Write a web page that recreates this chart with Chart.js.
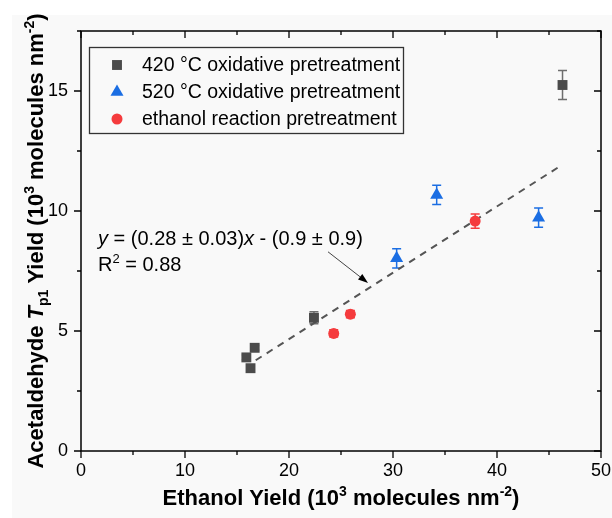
<!DOCTYPE html>
<html lang="en">
<head>
<meta charset="UTF-8">
<title>Acetaldehyde Tp1 yield vs ethanol yield</title>
<script src="https://cdn.jsdelivr.net/npm/chart.js"></script>
<style>
  html, body { margin: 0; padding: 0; background: #fff; }
  #chart { display: block; }
</style>
</head>
<body>
<canvas id="chart" width="612" height="518"></canvas>
<script>
// axis ticks
const xTickValues = [0, 10, 20, 30, 40, 50];
const yTickValues = [0, 5, 10, 15];
const xMinorValues = [5, 15, 25, 35, 45];
const yMinorValues = [2.5, 7.5, 12.5, 17.5];

// 420 °C oxidative pretreatment
const x420 = [15.9, 16.3, 16.7, 22.4, 46.3];
const y420 = [3.9, 3.45, 4.3, 5.55, 15.25];
const err420 = [0.1, 0.1, 0.1, 0.25, 0.6];

// 520 °C oxidative pretreatment
const x520 = [30.35, 34.2, 44.0];
const y520 = [8.03, 10.67, 9.72];
const err520 = [0.4, 0.4, 0.4];

// ethanol reaction pretreatment
const xEth = [24.3, 25.9, 37.9];
const yEth = [4.9, 5.7, 9.58];
const errEth = [0.15, 0.15, 0.3];

// linear fit, end points
const fitX = [16.8, 46.0];
const fitY = [3.78, 11.85];

// arrow from the equation to the fit line (data units)
const arrowFrom = [23.75, 8.3];
const arrowTo = [27.6, 7.0];

const seriesNames = ['420 °C oxidative pretreatment', '520 °C oxidative pretreatment', 'ethanol reaction pretreatment'];

const FONT = '"Liberation Sans", Arial, sans-serif';
const GREY = '#4b4b4b';
const BLUE = '#1b6ee3';
const RED = '#f53b3d';

function pts(xs, ys) {
  return xs.map((x, i) => ({ x: x, y: ys[i] }));
}

// draw a run of text pieces with their own fonts / offsets
function drawRich(ctx, segs, x, y, align) {
  let total = 0;
  segs.forEach(s => { ctx.font = s.font; total += ctx.measureText(s.text).width; });
  let cx = align === 'center' ? x - total / 2 : x;
  segs.forEach(s => {
    ctx.font = s.font;
    ctx.fillText(s.text, cx, y + (s.dy || 0));
    cx += ctx.measureText(s.text).width;
  });
}

const decorations = {
  id: 'decorations',
  beforeDraw(chart) {
    const ctx = chart.ctx;
    ctx.save();
    ctx.fillStyle = '#ffffff';
    ctx.fillRect(0, 0, chart.width, chart.height);
    ctx.fillStyle = '#f9f9f9';
    ctx.fillRect(12, 15, chart.width - 12, chart.height - 15);
    ctx.restore();
  },
  beforeDatasetsDraw(chart) {
    // error bars
    const ctx = chart.ctx;
    const xs = chart.scales.x, ys = chart.scales.y;
    const sets = [[x420, y420, err420, '#6e6e6e'], [x520, y520, err520, BLUE], [xEth, yEth, errEth, RED]];
    ctx.save();
    ctx.lineWidth = 1.5;
    sets.forEach(([xv, yv, ev, col]) => {
      ctx.strokeStyle = col;
      xv.forEach((x, i) => {
        const px = xs.getPixelForValue(x);
        const t = ys.getPixelForValue(yv[i] + ev[i]);
        const b = ys.getPixelForValue(yv[i] - ev[i]);
        ctx.beginPath();
        ctx.moveTo(px, t); ctx.lineTo(px, b);
        ctx.moveTo(px - 4.5, t); ctx.lineTo(px + 4.5, t);
        ctx.moveTo(px - 4.5, b); ctx.lineTo(px + 4.5, b);
        ctx.stroke();
      });
    });
    ctx.restore();
  },
  afterDraw(chart) {
    const ctx = chart.ctx;
    const a = chart.chartArea;
    const xs = chart.scales.x, ys = chart.scales.y;
    ctx.save();

    // frame
    ctx.strokeStyle = '#000';
    ctx.lineWidth = 1.5;
    ctx.strokeRect(a.left, a.top, a.right - a.left, a.bottom - a.top);

    // ticks: outward on left/bottom, inward on top/right
    ctx.lineWidth = 1.3;
    ctx.beginPath();
    const tickX = (v, len) => {
      const p = xs.getPixelForValue(v);
      ctx.moveTo(p, a.bottom); ctx.lineTo(p, a.bottom + len);
      ctx.moveTo(p, a.top); ctx.lineTo(p, a.top + len);
    };
    const tickY = (v, len) => {
      const p = ys.getPixelForValue(v);
      ctx.moveTo(a.left, p); ctx.lineTo(a.left - len, p);
      ctx.moveTo(a.right, p); ctx.lineTo(a.right - len, p);
    };
    xTickValues.forEach(v => tickX(v, 7));
    xMinorValues.forEach(v => tickX(v, 4));
    yTickValues.forEach(v => tickY(v, 7));
    yMinorValues.forEach(v => tickY(v, 4));
    ctx.stroke();

    // axis titles
    ctx.fillStyle = '#000';
    ctx.textBaseline = 'alphabetic';
    const B = 'bold 22px ' + FONT, BS = 'bold 14px ' + FONT;
    drawRich(ctx, [
      { text: 'Ethanol Yield (10', font: B },
      { text: '3', font: BS, dy: -9 },
      { text: ' molecules nm', font: B },
      { text: '-2', font: BS, dy: -9 },
      { text: ')', font: B }
    ], (a.left + a.right) / 2, 505, 'center');

    ctx.save();
    ctx.translate(43, (a.top + a.bottom) / 2);
    ctx.rotate(-Math.PI / 2);
    drawRich(ctx, [
      { text: 'Acetaldehyde ', font: B },
      { text: 'T', font: 'italic bold 22px ' + FONT },
      { text: 'p1', font: BS, dy: 5 },
      { text: ' Yield (10', font: B },
      { text: '3', font: BS, dy: -9 },
      { text: ' molecules nm', font: B },
      { text: '-2', font: BS, dy: -9 },
      { text: ')', font: B }
    ], 0, 0, 'center');
    ctx.restore();

    // legend
    ctx.strokeStyle = '#333';
    ctx.lineWidth = 1.3;
    ctx.strokeRect(89.5, 47.5, 314, 86);
    const styles = [
      { pointStyle: 'rect', radius: 7, rotation: 0, borderWidth: 0 },
      { pointStyle: 'triangle', radius: 7.5, rotation: 0, borderWidth: 0 },
      { pointStyle: 'circle', radius: 5.5, rotation: 0, borderWidth: 0 }
    ];
    const cols = [GREY, BLUE, RED];
    ctx.textBaseline = 'middle';
    seriesNames.forEach((name, i) => {
      const yy = 65 + i * 27;
      ctx.fillStyle = cols[i];
      ctx.strokeStyle = cols[i];
      Chart.helpers.drawPoint(ctx, styles[i], 117, yy);
      ctx.fillStyle = '#000';
      ctx.font = '19.5px ' + FONT;
      ctx.fillText(name, 142, yy + 1);
    });

    // fit equation
    ctx.textBaseline = 'alphabetic';
    const N = '20px ' + FONT, I = 'italic 20px ' + FONT;
    drawRich(ctx, [
      { text: 'y', font: I },
      { text: ' = (0.28 ± 0.03)', font: N },
      { text: 'x', font: I },
      { text: ' - (0.9 ± 0.9)', font: N }
    ], 98, 245, 'left');
    drawRich(ctx, [
      { text: 'R', font: N },
      { text: '2', font: '13px ' + FONT, dy: -8 },
      { text: ' = 0.88', font: N }
    ], 98, 271, 'left');

    // arrow
    const x0 = xs.getPixelForValue(arrowFrom[0]), y0 = ys.getPixelForValue(arrowFrom[1]);
    const x1 = xs.getPixelForValue(arrowTo[0]), y1 = ys.getPixelForValue(arrowTo[1]);
    const ang = Math.atan2(y1 - y0, x1 - x0);
    ctx.strokeStyle = '#444';
    ctx.lineWidth = 1;
    ctx.beginPath();
    ctx.moveTo(x0, y0);
    ctx.lineTo(x1 - 8 * Math.cos(ang), y1 - 8 * Math.sin(ang));
    ctx.stroke();
    ctx.fillStyle = '#000';
    ctx.beginPath();
    ctx.moveTo(x1, y1);
    ctx.lineTo(x1 - 10 * Math.cos(ang) + 3.5 * Math.sin(ang), y1 - 10 * Math.sin(ang) - 3.5 * Math.cos(ang));
    ctx.lineTo(x1 - 10 * Math.cos(ang) - 3.5 * Math.sin(ang), y1 - 10 * Math.sin(ang) + 3.5 * Math.cos(ang));
    ctx.closePath();
    ctx.fill();

    ctx.restore();
  }
};

new Chart(document.getElementById('chart'), {
  type: 'scatter',
  data: {
    datasets: [
      {
        label: seriesNames[0], data: pts(x420, y420),
        pointStyle: 'rect', pointRadius: 7, pointHoverRadius: 7,
        backgroundColor: GREY, borderColor: GREY, borderWidth: 0, order: 1
      },
      {
        label: seriesNames[1], data: pts(x520, y520),
        pointStyle: 'triangle', pointRadius: 7.5, pointHoverRadius: 7.5,
        backgroundColor: BLUE, borderColor: BLUE, borderWidth: 0, order: 1
      },
      {
        label: seriesNames[2], data: pts(xEth, yEth),
        pointStyle: 'circle', pointRadius: 5.5, pointHoverRadius: 5.5,
        backgroundColor: RED, borderColor: RED, borderWidth: 0, order: 1
      },
      {
        type: 'line', label: 'fit', data: pts(fitX, fitY),
        borderColor: '#555', borderWidth: 2, borderDash: [7, 6],
        pointRadius: 0, fill: false, order: 10
      }
    ]
  },
  options: {
    responsive: false,
    animation: false,
    devicePixelRatio: 1,
    layout: { padding: { left: 0, top: 31, right: 11, bottom: 0 } },
    plugins: { legend: { display: false }, tooltip: { enabled: false } },
    scales: {
      x: {
        type: 'linear', min: 0, max: 50,
        afterBuildTicks: s => { s.ticks = xTickValues.map(v => ({ value: v })); },
        afterFit: s => { s.height = 67; s.paddingLeft = 0; s.paddingRight = 0; },
        grid: { drawOnChartArea: false, drawTicks: false },
        border: { display: false },
        ticks: { padding: 9, color: '#000', font: { family: FONT, size: 18 } }
      },
      y: {
        type: 'linear', min: 0, max: 17.5,
        afterBuildTicks: s => { s.ticks = yTickValues.map(v => ({ value: v })); },
        afterFit: s => { s.width = 81; s.paddingTop = 0; s.paddingBottom = 0; },
        grid: { drawOnChartArea: false, drawTicks: false },
        border: { display: false },
        ticks: { padding: 13, color: '#000', font: { family: FONT, size: 18 } }
      }
    }
  },
  plugins: [decorations]
});
</script>
</body>
</html>
